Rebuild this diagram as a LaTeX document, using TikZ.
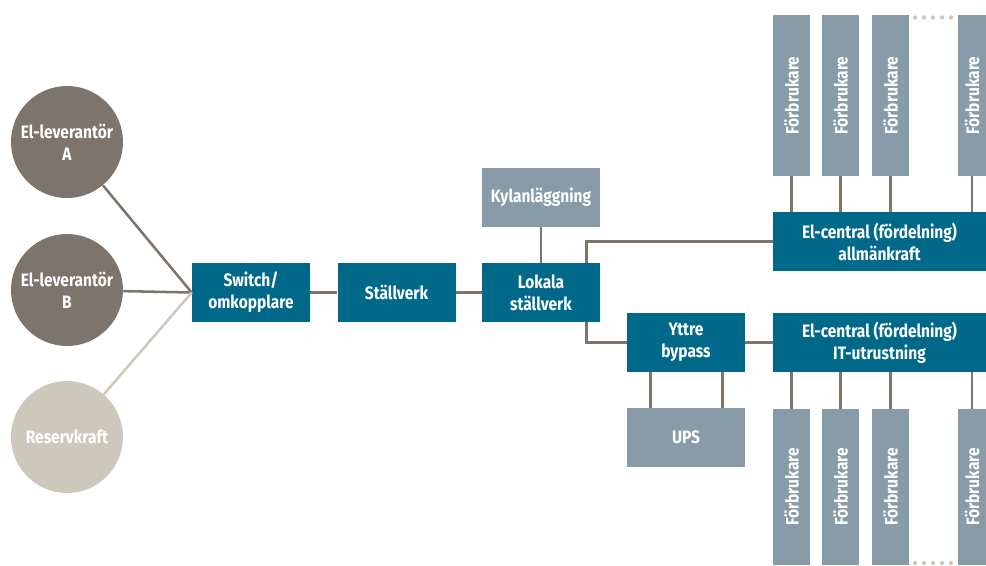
\documentclass[tikz,border=0pt]{standalone}
\usepackage{fontspec}
\setmainfont{Fira Sans}[FakeStretch=0.86]
\usetikzlibrary{calc}
\definecolor{petrol}{HTML}{00698A}
\definecolor{grablue}{HTML}{879CA8}
\definecolor{mullvad}{HTML}{7D746B}
\definecolor{sand}{HTML}{CCC8BC}

\begin{document}
\begin{tikzpicture}[x=0.75pt,y=-0.75pt,
	every node/.style={text=white,font=\fontsize{13.5}{16.5}\selectfont\bfseries,align=center,inner sep=0pt},
	lev/.style={circle,fill=mullvad,minimum size=84pt},
	blabox/.style={fill=petrol,minimum width=88.5pt,minimum height=44.25pt},
	graybox/.style={fill=grablue,minimum width=88.5pt,minimum height=44.25pt},
	central/.style={fill=petrol,minimum width=159.75pt,minimum height=44.25pt},
	forbr/.style={fill=grablue,minimum width=27.75pt,minimum height=120.75pt},
	ledning/.style={draw=mullvad,line width=1.9pt}]
\useasboundingbox (0,0) rectangle (986,565);
% kraftkallor
\node[lev] (levA) at (67,142) {El-leverantör\\A};
\node[lev] (levB) at (67,290) {El-leverantör\\B};
\node[lev,fill=sand] (reserv) at (67,437) {Reservkraft};
% huvudkedjan
\node[blabox] (switch) at (251,292.5) {Switch/\\omkopplare};
\node[blabox] (stallverk) at (396.5,292.5) {Ställverk};
\node[blabox] (lokala) at (541,292.5) {Lokala\\ställverk};
\node[graybox] (kyla) at (541,197.5) {Kylanläggning};
\node[blabox] (yttre) at (686,342.5) {Yttre\\bypass};
\node[graybox] (ups) at (686,437.5) {UPS};
\node[central] (allman) at (879.5,241.5) {El-central (fördelning)\\allmänkraft};
\node[central] (itcentral) at (879.5,342.5) {El-central (fördelning)\\IT-utrustning};
% forbrukare
\foreach \x/\w [count=\i] in {791.5/27.75,840.5/27.75,890.5/27.75,972/21} {
	\node[forbr,minimum width=\w pt] (upp\i) at (\x,95.5) {\rotatebox{90}{Förbrukare}};
	\node[forbr,minimum width=\w pt,minimum height=117pt] (ned\i) at (\x,487) {\rotatebox{90}{Förbrukare}};
	\draw[ledning] (upp\i.south) -- (upp\i.south |- allman.north);
	\draw[ledning] (ned\i.north) -- (ned\i.north |- itcentral.south);
}
\foreach \x in {915,924,933,942,951} {
	\fill[sand] (\x,17.5) circle (1.6pt);
	\fill[sand] (\x,563) circle (1.6pt);
}
% ledningar
\draw[ledning] (levA) -- (switch.west);
\draw[ledning] (levB) -- (switch.west);
\draw[ledning,draw=sand] (reserv) -- (switch.west);
\draw[ledning] (switch) -- (stallverk);
\draw[ledning] (stallverk) -- (lokala);
\draw[ledning] (kyla) -- (lokala);
\draw[ledning] ($(lokala.north east)+(-14,0)$) |- (allman.west);
\draw[ledning] ($(lokala.south east)+(-14,0)$) |- (yttre.west);
\draw[ledning] (yttre) -- (itcentral);
\draw[ledning] ($(yttre.south west)+(24,0)$) -- ($(ups.north west)+(24,0)$);
\draw[ledning] ($(yttre.south east)+(-23,0)$) -- ($(ups.north east)+(-23,0)$);
\end{tikzpicture}
\end{document}
